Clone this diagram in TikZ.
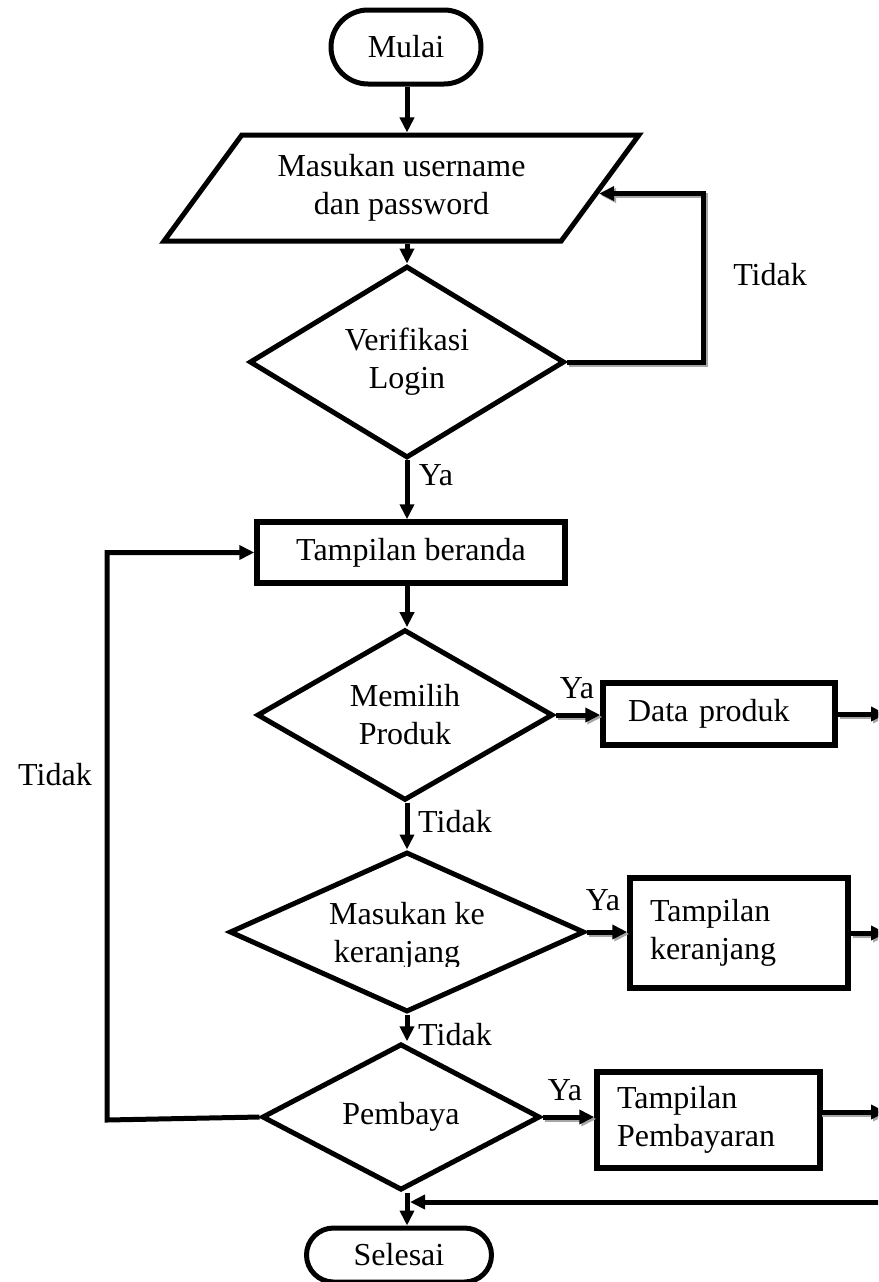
\documentclass[tikz,border=0pt]{standalone}
\usepackage{fontspec}
\setmainfont{Liberation Serif}
\usetikzlibrary{shapes.geometric,shapes.misc,arrows.meta,calc}
\tikzset{
  txt/.style={font=\fontsize{32}{38}\selectfont, align=center},
  terminal/.style={rounded rectangle, draw, line width=5, inner sep=0, txt},
  procbox/.style={rectangle, draw, line width=5.5, inner sep=0, txt},
  decision/.style={diamond, draw, line width=5, inner sep=0, txt},
  arr/.style={line width=5, -{Triangle[length=15pt,width=14pt]}},
  shad/.style={preaction={draw=black!35, line width=5, transform canvas={shift={(2,2)}}}},
  lbl/.style={txt, inner sep=0}
}
\begin{document}
\begin{tikzpicture}[x=1pt,y=-1pt]
\useasboundingbox (0,0) rectangle (878,1282);
\fill[white] (0,0) rectangle (878,1282);
\clip (0,0) rectangle (878,1282);

\coordinate (colx) at (407,0);
\coordinate (edgeR) at (886,0);

% nodes
\node[terminal, minimum width=150, minimum height=74] (start) at (406,47) {Mulai};
\node[trapezium, trapezium stretches=true, trapezium left angle=48, trapezium right angle=132,
      draw, line width=5, inner sep=0, txt, minimum width=477, minimum height=106] (in) at (401.5,188)
      {Masukan username\\dan password};
\node[decision, minimum width=315, minimum height=170] (d1) at (407,362) {Verifikasi\\Login};
\node[procbox, minimum width=308, minimum height=61] (ber) at (411,552.5) {Tampilan beranda};
\node[decision, minimum width=296, minimum height=170] (d2) at (405,715) {Memilih\\Produk};
\node[procbox, minimum height=62, text width=182, inner xsep=25, align=left] (dp) at (719,714) {Data produk};
\node[decision, minimum width=355, minimum height=160] (d3) at (407,932) {};
\begin{scope}
  \clip (200,880) rectangle (620,966);
  \node[lbl, anchor=base] (d3a) at (407,924) {Masukan ke};
  \node[lbl, anchor=base] (d3b) at (397,962) {keranjang};
\end{scope}
\node[procbox, minimum height=110, text width=178, inner xsep=20, align=left] (kr) at (739,933) {Tampilan\\keranjang};
\node[decision, minimum width=278, minimum height=110] (d4) at (401,1117) {Pembaya};
\node[procbox, minimum height=96, text width=183, inner xsep=20, align=left] (pb) at (708.5,1120) {Tampilan\\Pembayaran};
\node[terminal, minimum width=185, minimum height=54] (end) at (399,1255) {Selesai};

% connectors
\draw[arr] (start.south -| colx) -- (in.north -| colx);
\draw[arr] (in.south -| colx) -- (d1.north -| colx);
\coordinate (inR) at ($(in.top right corner)!0.55!(in.bottom right corner)$);
\coordinate (loopA) at (703,362);
\draw[arr, shad] (d1.east) -- (loopA) -- (loopA |- inR) -- (inR);
\node[lbl] (t1) at (770,275) {Tidak};

\draw[arr] (d1.south -| colx) -- (ber.north -| colx);
\node[lbl] (y1) at (436,475) {Ya};
\draw[arr] (ber.south -| colx) -- (d2.north -| colx);

\draw[arr, shad] (d2.east) -- (dp.west |- d2.east);
\node[lbl] (y2) at (577,688) {Ya};
\draw[arr, shad] (dp.east) -- (dp.east -| edgeR);

\draw[arr] (d2.south -| colx) -- (d3.north -| colx);
\node[lbl] (t2) at (455,822) {Tidak};

\draw[arr, shad] (d3.east) -- (kr.west |- d3.east);
\node[lbl] (y3) at (603,900) {Ya};
\draw[arr, shad] (kr.east) -- (kr.east -| edgeR);

\draw[arr] (d3.south -| colx) -- (d4.north -| colx);
\node[lbl] (t3) at (455,1035) {Tidak};

\draw[arr, shad] (d4.east) -- (pb.west |- d4.east);
\node[lbl] (y4) at (565,1090) {Ya};
\coordinate (pbR) at (820,1112);
\draw[arr, shad] (pbR) -- (pbR -| edgeR);

\coordinate (loopB) at (107,1120);
\draw[arr] (d4.west) -- (loopB) -- (loopB |- ber.west) -- (ber.west);
\node[lbl] (t4) at (55,775) {Tidak};

\draw[arr] (d4.south -| colx) -- (end.north -| colx);
\coordinate (ret) at (900,1202);
\draw[arr] (ret) -- ($(ret -| colx)+(3,0)$);
\end{tikzpicture}
\end{document}
